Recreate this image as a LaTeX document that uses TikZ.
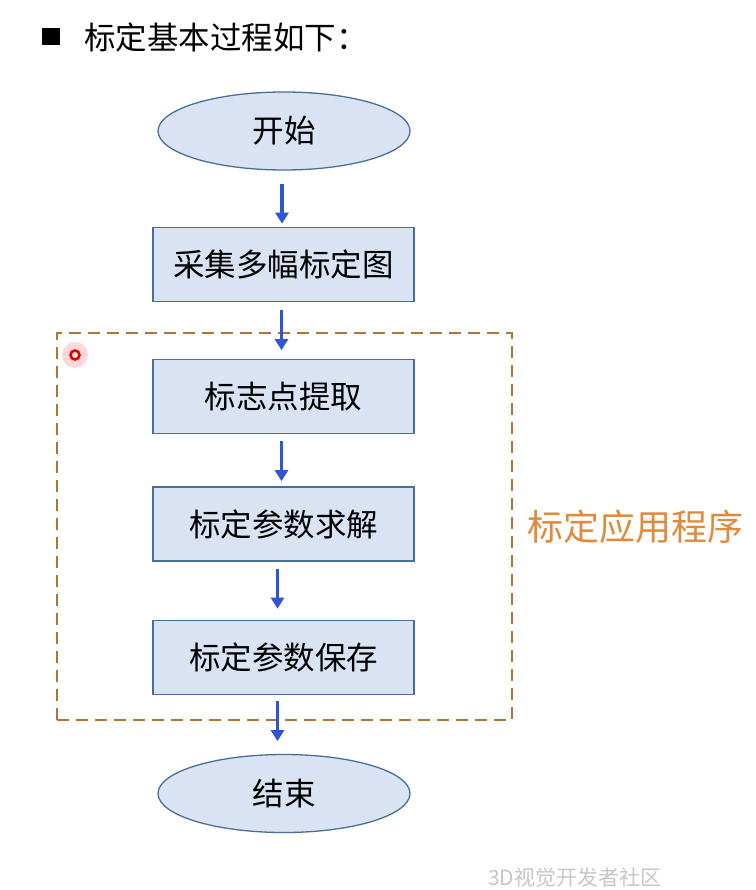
\documentclass[tikz,border=0pt]{standalone}
\usepackage{fontspec}
\setmainfont{Noto Sans CJK SC}
\usetikzlibrary{arrows.meta,shapes.geometric}

\definecolor{boxfill}{HTML}{DAE3F3}
\definecolor{boxline}{HTML}{4A6E98}
\definecolor{arrowblue}{HTML}{2F55D4}
\definecolor{framebrown}{HTML}{B07435}
\definecolor{labelorange}{HTML}{E08A3C}

\tikzset{
  stepbox/.style={draw=boxline, fill=boxfill, line width=1.3pt,
    minimum width=261pt, minimum height=74pt, inner sep=0pt,
    font=\fontsize{31.5}{33}\selectfont},
  endpoint/.style={ellipse, draw=boxline, fill=boxfill, line width=1.3pt,
    minimum width=252pt, minimum height=78pt, inner sep=0pt,
    font=\fontsize{31.5}{33}\selectfont},
  flow/.style={draw=arrowblue, line width=3.2pt,
    -{Triangle[length=11pt,width=13pt]}},
  appframe/.style={draw=framebrown, line width=2.2pt, dash pattern=on 12pt off 7pt,
    minimum width=455pt, minimum height=387pt, inner sep=0pt}
}

\begin{document}
\begin{tikzpicture}[x=1pt,y=-1pt]
    \useasboundingbox[fill=white] (0,0) rectangle (755,890);

    % Heading
    \fill (42,28) rectangle (60,45);
    \node[anchor=west, inner sep=0pt, font=\fontsize{31.5}{33}\selectfont] (title) at (84,37) {标定基本过程如下：};

    % Frame round the application steps
    \node[appframe] (app) at (284.5,526.5) {};
    \node[anchor=west, inner sep=0pt, text=labelorange, font=\fontsize{36}{38}\selectfont] (applabel) at ([xshift=14pt]app.east) {标定应用程序};

    % Steps
    \node[endpoint] (start) at (284,131) {开始};
    \node[stepbox] (collect) at (283.5,264.5) {采集多幅标定图};
    \node[stepbox] (extract) at (283.5,396.5) {标志点提取};
    \node[stepbox] (solve) at (283.5,524) {标定参数求解};
    \node[stepbox] (save) at (283.5,657.5) {标定参数保存};
    \node[endpoint] (finish) at (284,793.5) {结束};

    % Arrows between the steps
    \draw[flow] ([xshift=-2pt,yshift=-13pt]start.south) -- ++(0,40);
    \draw[flow] ([xshift=-2pt,yshift=-8pt]collect.south) -- ++(0,40);
    \draw[flow] ([xshift=-2pt,yshift=-7pt]extract.south) -- ++(0,40);
    \draw[flow] ([xshift=-6pt,yshift=-7pt]solve.south) -- ++(0,40);
    \draw[flow] ([xshift=-6pt,yshift=-6pt]save.south) -- ++(0,40);

    % Pointer mark
    \fill[red!15] (75,355) circle (13);
    \draw[red!85!black, line width=2.5pt] (75,355) circle (4.5);

    % Watermark
    \node[anchor=west, inner sep=0pt, text=black!22, font=\fontsize{21}{22}\selectfont] (mark) at (488,878) {3D视觉开发者社区};
\end{tikzpicture}
\end{document}
